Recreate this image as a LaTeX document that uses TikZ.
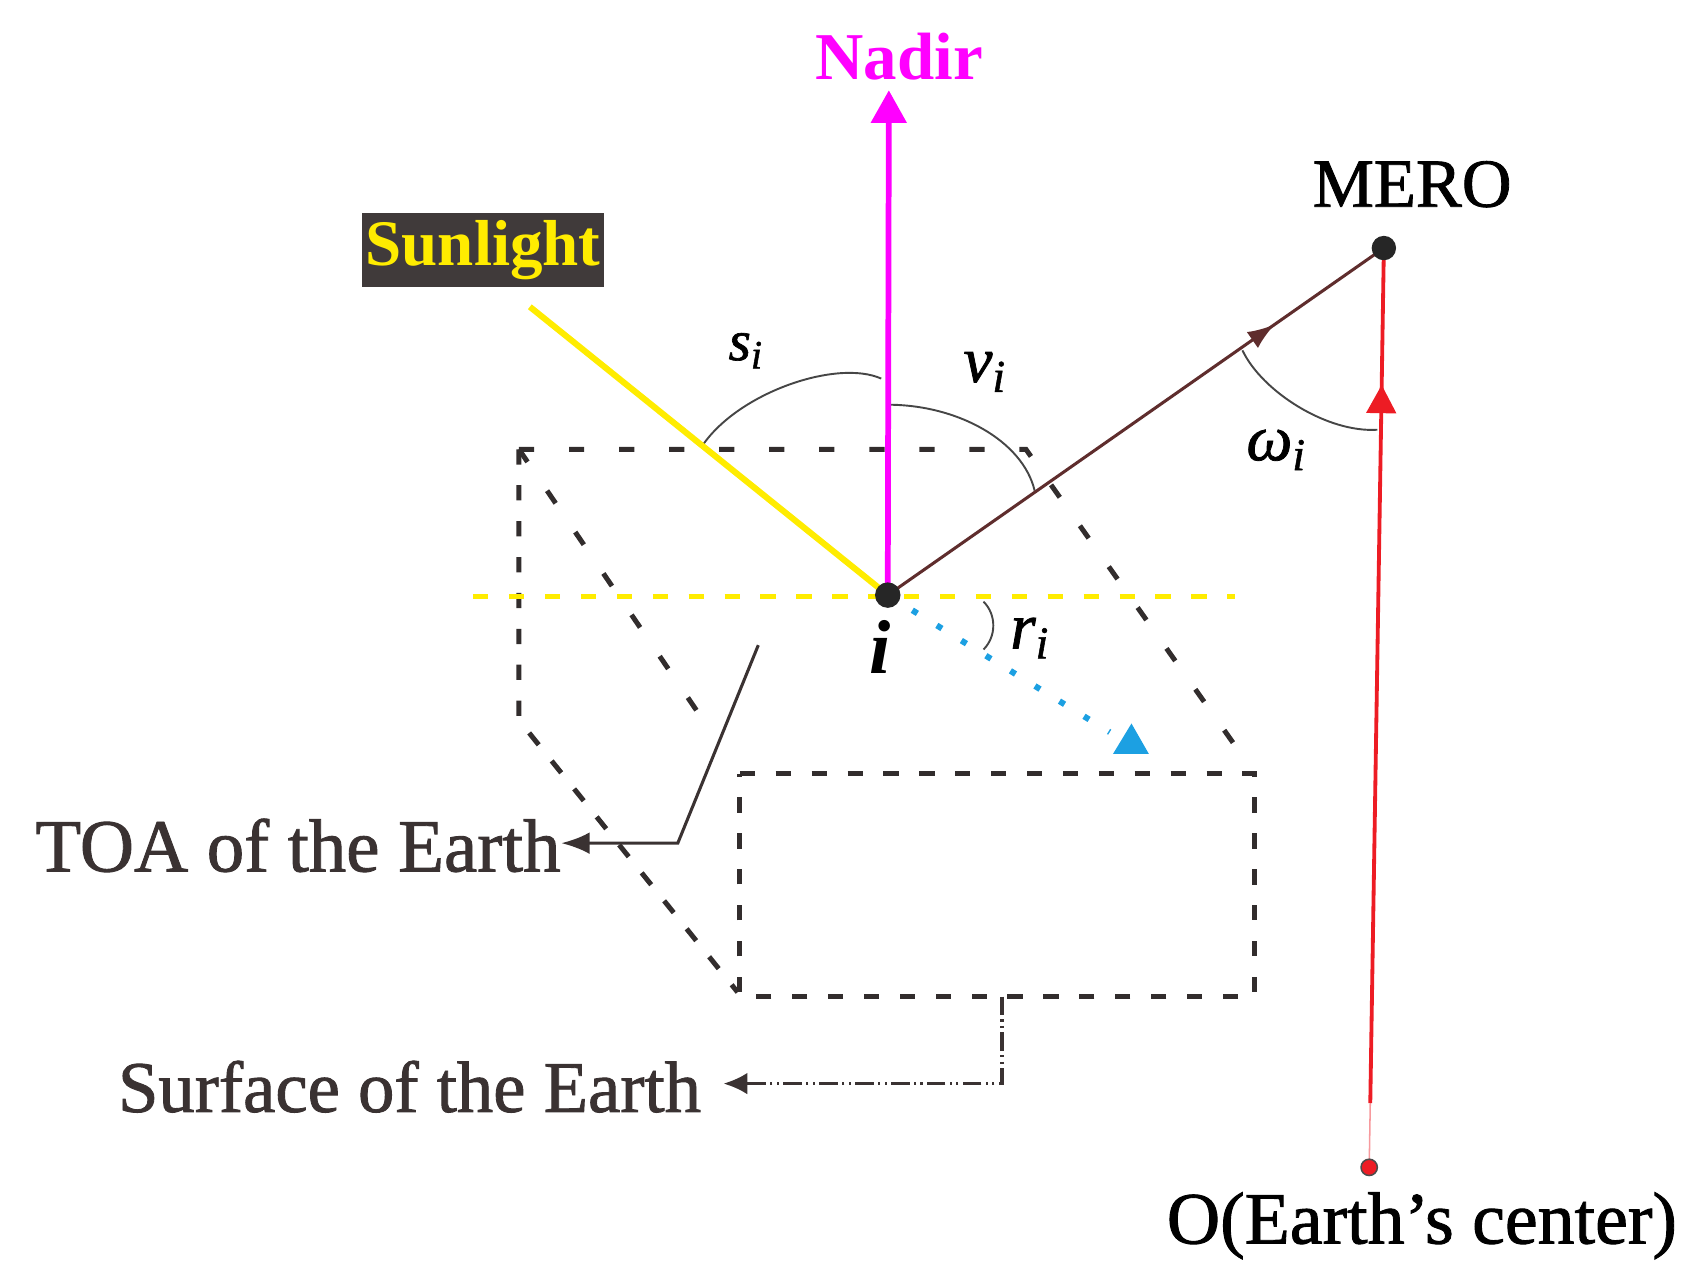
\documentclass[tikz,border=0pt]{standalone}
\usepackage{fontspec}
\setmainfont{Liberation Serif}
\newfontfamily\heavyserif[FakeBold=1.2]{Liberation Serif}
\usetikzlibrary{arrows.meta,decorations.markings}
\usetikzlibrary{calc}
\usetikzlibrary{positioning}

\definecolor{nadircol}{RGB}{255,0,255}
\definecolor{suncol}{RGB}{255,236,0}
\definecolor{viewcol}{RGB}{95,45,45}
\definecolor{earthred}{RGB}{237,28,36}
\definecolor{refcol}{RGB}{28,160,226}
\definecolor{framegray}{RGB}{50,45,45}
\definecolor{boxgray}{RGB}{64,58,58}
\definecolor{textgray}{RGB}{58,50,50}
\definecolor{arcgray}{RGB}{70,70,70}

\begin{document}
\begin{tikzpicture}[
  > = latex,
  dot/.style = {draw,fill,circle,inner sep=0pt,minimum size=0.22cm},
  frame/.style = {color=framegray,line width=1.3pt,dash pattern=on 0.14cm off 0.19cm},
  frame wide/.style = {frame,dash pattern=on 0.14cm off 0.32cm},
  anglearc/.style = {arcgray,line width=0.5pt},
  angle lab/.style = {inner sep=0pt,anchor=base west,font=\heavyserif\fontsize{17}{20}\selectfont\itshape},
  big lab/.style = {inner sep=0pt,text=textgray,font=\heavyserif\fontsize{19}{22}\selectfont},
  arrow inside/.style 2 args = {postaction=decorate,decoration={markings,mark=at position #1 with \arrow{#2}}}
  ]
	\useasboundingbox (0,0) rectangle (15.69,11.83);

	\coordinate (@i) at (8.16,6.36);
	\coordinate (@nadir) at (8.17,11.00);
	\coordinate (@sun) at (4.87,9.01);
	\coordinate (@mero) at (12.72,9.55);
	\coordinate (@O) at (12.585,1.10);
	\coordinate (@Ofade) at (12.595,1.69);
	\coordinate (@rEnd) at (10.20,5.10);
	\coordinate (@hl) at (4.35,6.35);
	\coordinate (@hr) at (11.35,6.35);

	% the box between TOA and surface
	\coordinate (@A) at (4.77,7.70);
	\coordinate (@B) at (9.43,7.70);
	\coordinate (@C) at (11.35,4.98);
	\coordinate (@D) at (4.77,5.21);
	\coordinate (@E) at (6.78,2.71);
	\coordinate (@F) at (6.45,5.23);
	\coordinate (@G) at (6.80,4.72);
	\coordinate (@H) at (11.53,4.72);
	\coordinate (@J) at (11.53,2.67);
	\coordinate (@K) at (6.80,2.67);

	\draw[frame wide] (@A) -- (@B) -- (@C);
	\draw[frame wide] (@A) -- (@F);
	\draw[frame] (@A) -- (@D) -- (@E);
	\draw[frame] (@G) -- (@H) -- (@J) -- (@K) -- cycle;

	\draw[suncol,line width=1.3pt,dash pattern=on 0.14cm off 0.19cm] (@hl) -- (@hr);

	% angles
	\draw[anglearc] (6.46,7.74) .. controls (6.80,8.23) and (7.70,8.53) .. (8.10,8.35);
	\draw[anglearc] (8.16,8.11) .. controls (8.80,8.11) and (9.40,7.78) .. (9.51,7.32);
	\draw[anglearc] (11.42,8.61) .. controls (11.60,8.23) and (12.20,7.85) .. (12.66,7.88);
	\draw[anglearc] (9.04,6.30) .. controls (9.16,6.18) and (9.16,5.98) .. (9.04,5.86);

	% rays
	\draw[suncol,line width=1.6pt] (@sun) -- (@i);
	\draw[nadircol,line width=1.5pt,-{Triangle[length=0.30cm,width=0.32cm]}] (@i) -- (@nadir);
	\draw[viewcol,line width=0.8pt,arrow inside={.78}{Latex[length=0.25cm,width=0.18cm]}] (@i) -- (@mero);
	\draw[earthred!45,line width=0.4pt] (@O) -- (@Ofade);
	\draw[earthred,line width=1pt,arrow inside={.84}{Triangle[length=0.26cm,width=0.27cm]}] (@Ofade) -- (@mero);
	\draw[refcol,line width=0.055cm,dash pattern=on 0.055cm off 0.21cm] (@i) -- (@rEnd);
	\fill[refcol] (10.23,4.90) -- (10.56,4.90) -- (10.40,5.18) -- cycle;

	\node[dot,fill=black!85,draw=black!85] (i) at (@i) {};
	\node[dot,fill=black!85,draw=black!85,minimum size=0.21cm] (mero) at (@mero) {};
	\node[dot,fill=earthred,draw=black!70,minimum size=0.15cm,line width=0.4pt] (O) at (@O) {};

	% labels
	\node[fill=boxgray,text=suncol,font=\fontsize{17}{20}\selectfont\bfseries,inner xsep=1pt,inner ysep=0pt,minimum height=0.68cm] (sunlight) at (4.44,9.53) {Sunlight};
	\node[text=nadircol,font=\fontsize{17.5}{20}\selectfont\bfseries,anchor=base,inner sep=0pt] (nadirlab) at (8.265,11.10) {Nadir};
	\node[anchor=base,inner sep=0pt,font=\heavyserif\fontsize{18}{21}\selectfont] (merolab) at (12.98,9.93) {MERO};
	\node[anchor=base,inner sep=0pt,font=\heavyserif\fontsize{19.3}{22}\selectfont] (Olab) at (13.07,0.40) {O(Earth’s center)};
	\node[anchor=base,inner sep=0pt,font=\fontsize{20}{22}\selectfont\bfseries\itshape] (ilab) at (8.09,5.64) {i};

	\node[angle lab,font=\heavyserif\fontsize{15}{17}\selectfont\itshape] (slab) at (6.69,8.52) {s\textsubscript{i}};
	\node[angle lab] (vlab) at (8.85,8.32) {v\textsubscript{i}};
	\node[angle lab] (wlab) at (11.45,7.60) {ω\textsubscript{i}};
	\node[angle lab] (rlab) at (9.28,5.87) {r\textsubscript{i}};

	% pointers to the two surfaces
	\coordinate (@toaTop) at (6.97,5.90);
	\coordinate (@toaBend) at (6.23,4.08);
	\node[big lab,anchor=base east,font=\heavyserif\fontsize{19.6}{22}\selectfont] (toa) at (5.16,3.82) {TOA of the Earth};
	\draw[textgray,line width=0.8pt,-{Latex[length=0.26cm,width=0.2cm]}] (@toaTop) -- (@toaBend) -- (@toaBend -| toa.east);

	\coordinate (@sfTop) at (9.21,2.67);
	\coordinate (@sfBend) at (9.21,1.87);
	\node[big lab,anchor=base east,inner xsep=0.2cm] (surf) at (6.65,1.61) {Surface of the Earth};
	\draw[textgray,line width=0.8pt,dash pattern=on 0.17cm off 0.04cm on 0.02cm off 0.04cm on 0.02cm off 0.04cm,-{Latex[length=0.22cm,width=0.2cm]}] (@sfTop) -- (@sfBend) -- (@sfBend -| surf.east);

\end{tikzpicture}
\end{document}
